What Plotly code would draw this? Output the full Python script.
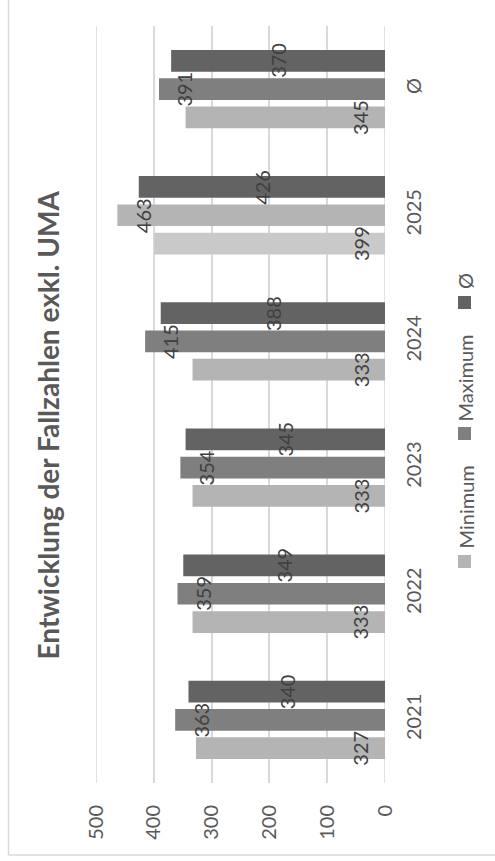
import plotly.graph_objects as go

categories = ["2021", "2022", "2023", "2024", "2025", "Ø"]
minimum = [327, 333, 333, 333, 399, 345]
maximum = [363, 359, 354, 415, 463, 391]
average = [340, 349, 345, 388, 426, 370]
series_names = ["Minimum", "Maximum", "Ø"]
value_ticks = [0, 100, 200, 300, 400, 500]
title_text = "Entwicklung der Fallzahlen exkl. UMA"

min_colors = ["#b4b4b4", "#b4b4b4", "#b4b4b4", "#b4b4b4", "#c9c9c9", "#b4b4b4"]
max_colors = ["#7f7f7f", "#7f7f7f", "#7f7f7f", "#7f7f7f", "#b4b4b4", "#7f7f7f"]
avg_colors = ["#636363"] * 6
legend_colors = ["#b4b4b4", "#7f7f7f", "#636363"]

FONT = "Lato, Carlito, Calibri, sans-serif"
W, H = 495, 861
ML, MR, MT, MB = 96, 110, 26, 78
PW = W - ML - MR
PH = H - MT - MB


def px_x(p):
    return (p - ML) / PW


def px_y(p):
    return (H - MB - p) / PH


fig = go.Figure()
for name, vals, cols in [("Minimum", minimum, min_colors),
                         ("Maximum", maximum, max_colors),
                         ("Ø", average, avg_colors)]:
    fig.add_trace(go.Bar(name=name, x=vals, y=categories, orientation="h",
                         marker=dict(color=cols, line=dict(width=0)),
                         showlegend=False, hoverinfo="skip"))

annotations = []
lab_font = dict(family=FONT, size=20, color="#404040")
slot = 28.3
for i, c in enumerate(categories):
    annotations.append(dict(x=0, y=i, xref="x", yref="y", text=str(minimum[i]),
                            textangle=-90, showarrow=False, xshift=-24.5, yshift=-slot,
                            xanchor="center", yanchor="middle", font=lab_font))
    annotations.append(dict(x=maximum[i], y=i, xref="x", yref="y", text=str(maximum[i]),
                            textangle=-90, showarrow=False, xshift=25.5, yshift=0,
                            xanchor="center", yanchor="middle", font=lab_font))
    annotations.append(dict(x=average[i] / 2, y=i, xref="x", yref="y", text=str(average[i]),
                            textangle=-90, showarrow=False, xshift=0, yshift=slot,
                            xanchor="center", yanchor="middle", font=lab_font))

# title
annotations.append(dict(x=px_x(47), y=px_y(425.5), xref="paper", yref="paper",
                        text="<b>" + title_text + "</b>", textangle=-90, showarrow=False,
                        xanchor="center", yanchor="middle",
                        font=dict(family=FONT, size=28, color="#595959")))

# legend (rotated)
shapes = []
sq = [(555, 568), (427, 440), (296, 309)]
txt_start = [551, 424, 291]
for name, col, (y0, y1), ts in zip(series_names, legend_colors, sq, txt_start):
    shapes.append(dict(type="rect", xref="paper", yref="paper",
                       x0=px_x(458), x1=px_x(471), y0=px_y(y1), y1=px_y(y0),
                       fillcolor=col, line=dict(width=0)))
    annotations.append(dict(x=px_x(465), y=px_y(ts), xref="paper", yref="paper",
                            text=name, textangle=-90, showarrow=False,
                            xanchor="center", yanchor="bottom",
                            font=dict(family=FONT, size=20, color="#595959")))

# gridlines at the range ends (0 and 500)
for v in (value_ticks[0], value_ticks[-1]):
    shapes.append(dict(type="line", xref="x", yref="paper", x0=v, x1=v, y0=0, y1=1,
                       line=dict(color="#d9d9d9", width=1.5), layer="below"))

# chart frame (left and bottom edges visible)
shapes.append(dict(type="line", xref="paper", yref="paper",
                   x0=px_x(8.5), x1=px_x(8.5), y0=px_y(855), y1=px_y(-5),
                   line=dict(color="#d9d9d9", width=1.5)))
shapes.append(dict(type="line", xref="paper", yref="paper",
                   x0=px_x(8.5), x1=px_x(500), y0=px_y(855), y1=px_y(855),
                   line=dict(color="#d9d9d9", width=1.5)))

fig.update_layout(
    width=W, height=H,
    margin=dict(l=ML, r=MR, t=MT, b=MB, pad=0),
    paper_bgcolor="white", plot_bgcolor="white",
    barmode="group", bargap=0.327, bargroupgap=0.233,
    font=dict(family=FONT, size=20, color="#595959"),
    annotations=annotations, shapes=shapes,
    xaxis=dict(type="linear", range=[500, 0], tickvals=value_ticks,
               ticktext=[str(v) for v in value_ticks],
               tickangle=-90, showgrid=True, gridcolor="#d9d9d9", gridwidth=1.5,
               zeroline=False, showline=False,
               ticks="outside", ticklen=13, tickcolor="rgba(0,0,0,0)",
               tickfont=dict(family=FONT, size=20, color="#595959")),
    yaxis=dict(type="category", categoryorder="array", categoryarray=categories,
               range=[-0.5, len(categories) - 0.5], side="right",
               tickangle=-90, showgrid=False, zeroline=False, showline=False,
               ticks="outside", ticklen=11, tickcolor="rgba(0,0,0,0)",
               tickfont=dict(family=FONT, size=20, color="#595959")),
)

fig.write_html("out.html", config={"displayModeBar": False},
               post_script="document.body.style.margin='0';document.body.style.overflow='hidden';")
